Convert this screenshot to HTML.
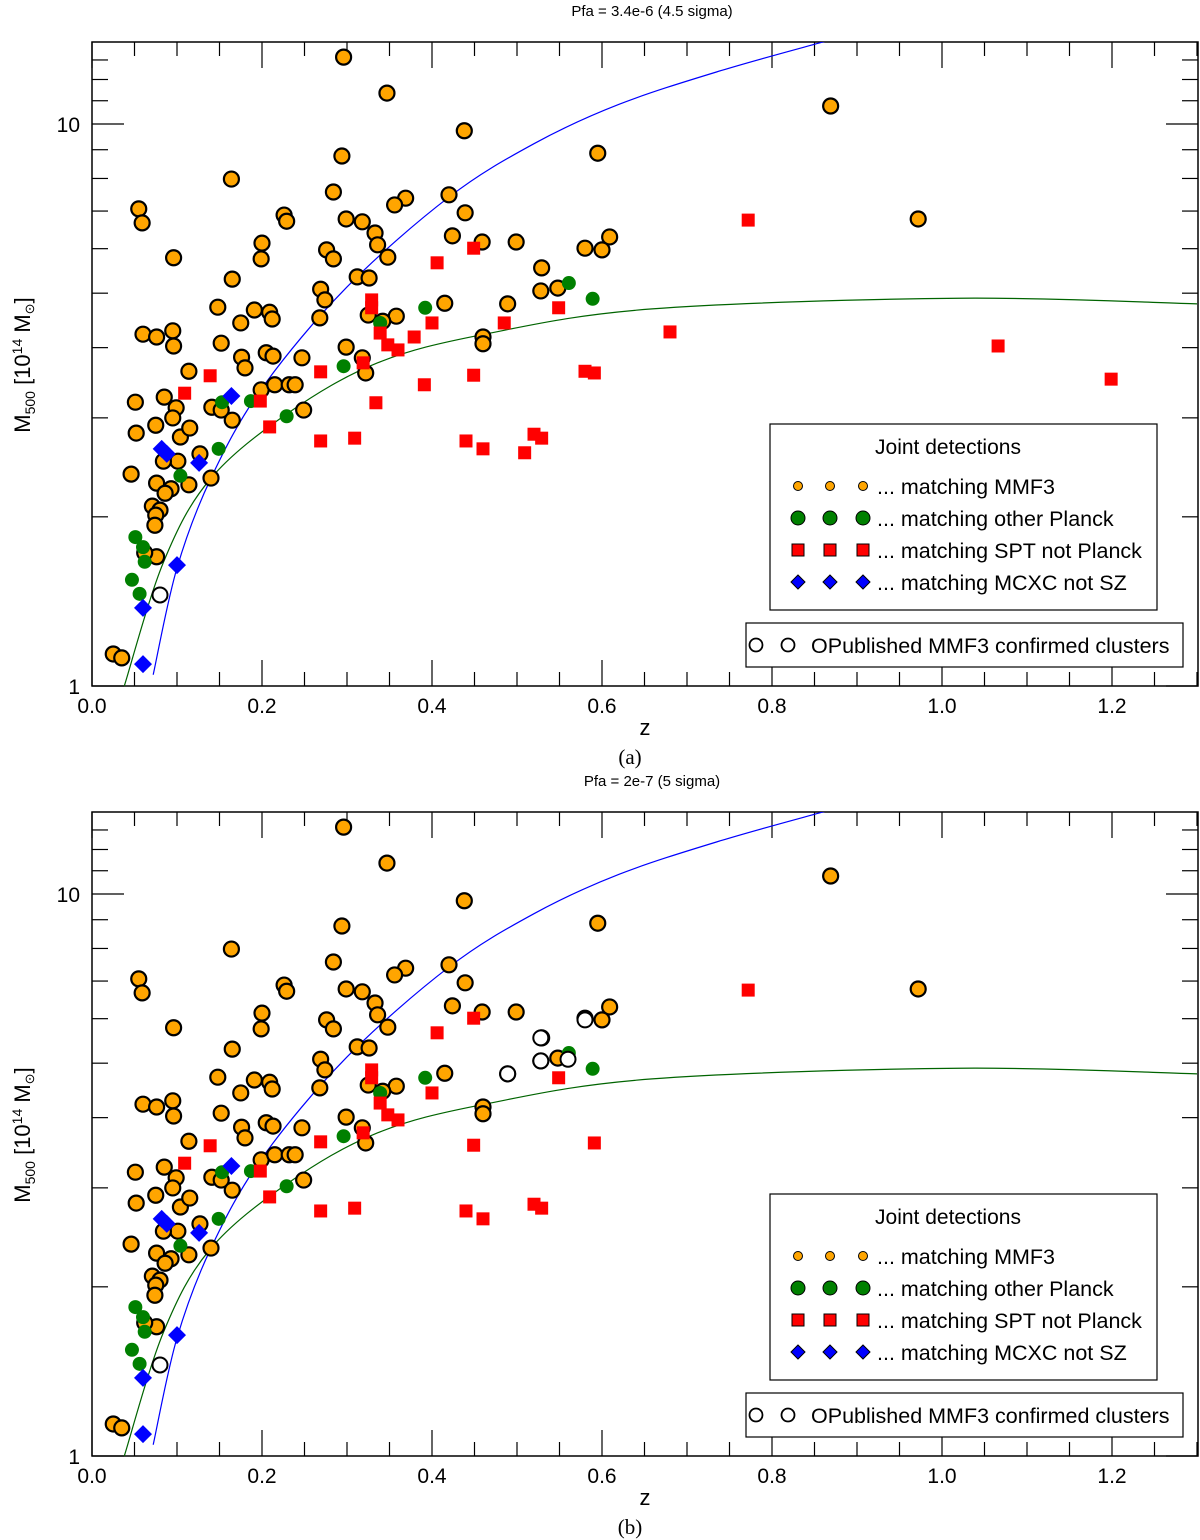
<!DOCTYPE html>
<html><head><meta charset="utf-8">
<style>
html,body{margin:0;padding:0;background:#fff;}
svg{display:block;font-family:"Liberation Sans",sans-serif;}
</style></head>
<body>
<svg id="chart" width="1200" height="1540" viewBox="0 0 1200 1540" xmlns="http://www.w3.org/2000/svg"></svg>
<script>
// ---- data (z, log10 M500/1e14) ----
const orangeZ=[0.296,0.347,0.869,0.438,0.294,0.595,0.164,0.055,0.059,0.420,0.284,0.369,0.356,0.439,0.972,0.299,0.318,0.226,0.229,0.333,0.424,0.459,0.499,0.336,0.200,0.276,0.284,0.096,0.609,0.600,0.580,0.348,0.529,0.199,0.312,0.326,0.165,0.528,0.269,0.274,0.548,0.489,0.415,0.148,0.191,0.209,0.212,0.325,0.358,0.175,0.342,0.268,0.060,0.076,0.095,0.096,0.152,0.299,0.205,0.176,0.460,0.460,0.213,0.247,0.180,0.114,0.199,0.215,0.232,0.239,0.318,0.322,0.051,0.085,0.141,0.099,0.152,0.165,0.052,0.075,0.104,0.115,0.249,0.095,0.127,0.101,0.084,0.046,0.076,0.114,0.093,0.086,0.071,0.080,0.075,0.074,0.076,0.062,0.025,0.035,0.140];
const orangeLogM=[1.119,1.055,1.032,0.988,0.943,0.948,0.902,0.849,0.824,0.874,0.879,0.868,0.856,0.842,0.831,0.831,0.826,0.838,0.827,0.806,0.801,0.790,0.790,0.785,0.788,0.776,0.760,0.762,0.799,0.776,0.779,0.763,0.744,0.760,0.728,0.726,0.724,0.703,0.706,0.687,0.708,0.680,0.681,0.674,0.669,0.665,0.653,0.660,0.658,0.646,0.649,0.655,0.626,0.621,0.632,0.605,0.610,0.603,0.593,0.585,0.621,0.609,0.587,0.584,0.566,0.560,0.527,0.536,0.536,0.536,0.584,0.557,0.505,0.514,0.496,0.495,0.491,0.473,0.450,0.464,0.443,0.459,0.491,0.477,0.413,0.400,0.400,0.377,0.361,0.358,0.351,0.343,0.320,0.313,0.304,0.286,0.230,0.237,0.057,0.050,0.370];
const greenZ=[0.561,0.589,0.392,0.339,0.296,0.153,0.187,0.229,0.149,0.104,0.051,0.060,0.062,0.047,0.056];
const greenLogM=[0.717,0.689,0.673,0.646,0.569,0.505,0.507,0.480,0.422,0.374,0.265,0.247,0.221,0.189,0.164];
const redZ=[0.772,0.406,0.449,0.549,0.329,0.329,0.400,0.485,0.680,0.339,1.066,0.348,0.360,0.379,0.319,0.269,0.449,0.580,0.591,1.199,0.139,0.109,0.391,0.334,0.198,0.209,0.269,0.309,0.440,0.460,0.509,0.520,0.529];
const redLogM=[0.829,0.753,0.779,0.673,0.687,0.673,0.646,0.646,0.630,0.628,0.605,0.607,0.598,0.621,0.575,0.559,0.553,0.560,0.557,0.546,0.552,0.521,0.536,0.504,0.507,0.461,0.436,0.441,0.436,0.422,0.415,0.448,0.441];
const redDroppedB=[7,8,10,13,17,19,22,23,30];
const blueZ=[0.082,0.088,0.164,0.126,0.100,0.060,0.060];
const blueLogM=[0.422,0.413,0.516,0.397,0.215,0.139,0.039];
const openZA=[0.080];
const openLogMA=[0.162];
const openZB=[0.080,0.528,0.580,0.489,0.528,0.560];
const openLogMB=[0.162,0.744,0.776,0.680,0.703,0.706];
const blueCurveZ=[0.072,0.100,0.140,0.200,0.300,0.420,0.520,0.620,0.740,0.860,0.880];
const blueCurveLogM=[0.020,0.210,0.370,0.530,0.710,0.870,0.965,1.035,1.095,1.146,1.154];
const greenCurveZ=[0.038,0.084,0.139,0.231,0.336,0.462,0.659,1.020,1.300];
const greenCurveLogM=[0.0,0.220,0.368,0.486,0.575,0.626,0.671,0.690,0.680];
const xTicks=[0.0,0.2,0.4,0.6,0.8,1.0,1.2];
const xTickLabels=["0.0","0.2","0.4","0.6","0.8","1.0","1.2"];
const panelTitles=["Pfa = 3.4e-6 (4.5 sigma)","Pfa = 2e-7 (5 sigma)"];
const panelTags=["(a)","(b)"];

const NS="http://www.w3.org/2000/svg";
const svg=document.getElementById('chart');
function el(tag,attrs,parent,text){const e=document.createElementNS(NS,tag);for(const k in attrs)e.setAttribute(k,attrs[k]);if(text!==undefined)e.textContent=text;(parent||svg).appendChild(e);return e;}

const X0=92,X1=1198,PXZ=850,PXDEC=562;
function drawPanel(p,off){
  const g=el('g',{});
  
  
  const top=42+off,bot=686+off;
  const xs=z=>X0+z*PXZ;
  const ys=l=>bot-l*PXDEC;
  const t=el('text',{x:652,y:16+off,'text-anchor':'middle','font-size':15},g,panelTitles[p]);
  
  const cid='clip'+p;
  const cp=el('clipPath',{id:cid},g);el('rect',{x:X0,y:top,width:X1-X0,height:bot-top},cp);
  const ax=el('g',{stroke:'#000','stroke-width':1.2},g);
  
  for(let i=0;i<=26;i++){const z=i*0.05,x=xs(z);if(x>X1)break;const major=(i%4===0);const L=major?26:14;
    el('line',{x1:x,y1:bot,x2:x,y2:bot-L},ax);el('line',{x1:x,y1:top,x2:x,y2:top+L},ax);}
  for(let m=1;m<=14;m++){const y=ys(Math.log10(m));if(y<top)break;const major=(m===1||m===10);const L=major?32:16;
    el('line',{x1:X0,y1:y,x2:X0+L,y2:y},ax);el('line',{x1:X1,y1:y,x2:X1-L,y2:y},ax);}
  el('rect',{x:X0,y:top,width:X1-X0,height:bot-top,fill:'none',stroke:'#000','stroke-width':1.5},g);
  xTicks.forEach((v,i)=>{const tl=el('text',{x:xs(v),y:bot+27,'text-anchor':'middle','font-size':21},g,xTickLabels[i]);
    });
  const y1=el('text',{x:80,y:ys(0)+8,'text-anchor':'end','font-size':21},g,'1');
  const y10=el('text',{x:80,y:ys(1)+8,'text-anchor':'end','font-size':21},g,'10');
  const xt=el('text',{x:645,y:bot+49,'text-anchor':'middle','font-size':22},g,'z');
  const yt=el('text',{transform:`translate(30,${off+365}) rotate(-90)`,'text-anchor':'middle','font-size':22},g);
  
  el('tspan',{},yt,'M');el('tspan',{'font-size':14,dy:5},yt,'500');el('tspan',{dy:-5},yt,' [10');el('tspan',{'font-size':14,dy:-8},yt,'14');el('tspan',{dy:8},yt,' M');el('tspan',{'font-size':13,dy:4},yt,'\u2299');el('tspan',{dy:-4},yt,']');
  const tag=el('text',{x:630,y:bot+78,'text-anchor':'middle','font-size':21,'font-family':'Liberation Serif, serif'},g,panelTags[p]);
  
  const pg=el('g',{'clip-path':`url(#${cid})`},g);
  function smooth(zs,ls){const P=zs.map((z,i)=>[xs(z),ys(ls[i])]);let d='M'+P[0];
    for(let i=0;i<P.length-1;i++){const p0=P[i-1]||P[i],p1=P[i],p2=P[i+1],p3=P[i+2]||P[i+1];
      d+=`C${p1[0]+(p2[0]-p0[0])/6},${p1[1]+(p2[1]-p0[1])/6} ${p2[0]-(p3[0]-p1[0])/6},${p2[1]-(p3[1]-p1[1])/6} ${p2[0]},${p2[1]}`;}return d;}
  const bc=el('path',{d:smooth(blueCurveZ,blueCurveLogM),fill:'none',stroke:'#0000ff','stroke-width':1.2},pg);
  
  const gc=el('path',{d:smooth(greenCurveZ,greenCurveLogM),fill:'none',stroke:'#006400','stroke-width':1.2},pg);
  
  orangeZ.forEach((z,i)=>{const c=el('circle',{cx:xs(z),cy:ys(orangeLogM[i]),r:7.5,fill:'#ffa500',stroke:'#000','stroke-width':2.2},pg);
    });
  greenZ.forEach((z,i)=>{const c=el('circle',{cx:xs(z),cy:ys(greenLogM[i]),r:7,fill:'#008000'},pg);
    });
  redZ.forEach((z,i)=>{if(p===1&&redDroppedB.includes(i))return;const s=13;
    const r=el('rect',{x:xs(z)-s/2,y:ys(redLogM[i])-s/2,width:s,height:s,fill:'#ff0000'},pg);
    });
  blueZ.forEach((z,i)=>{const x=xs(z),y=ys(blueLogM[i]),h=9;
    const d=el('polygon',{points:`${x},${y-h} ${x+h},${y} ${x},${y+h} ${x-h},${y}`,fill:'#0000ff'},pg);
    });
  const oz=p?openZB:openZA,ol=p?openLogMB:openLogMA;
  oz.forEach((z,i)=>{const c=el('circle',{cx:xs(z),cy:ys(ol[i]),r:7.5,fill:'#fff',stroke:'#000','stroke-width':2},pg);
    });
  const lg=el('g',{},g);
  el('rect',{x:770,y:424+off,width:387,height:186,fill:'#fff',stroke:'#000','stroke-width':1.2},lg);
  el('text',{x:948,y:454+off,'text-anchor':'middle','font-size':21},lg,'Joint detections');
  const labels=['... matching MMF3','... matching other Planck','... matching SPT not Planck','... matching MCXC not SZ'];
  const kinds=['o','g','s','d'];
  labels.forEach((lab,k)=>{const y=486+off+k*32;
    const e=el('g',{},lg);
    [798,830,863].forEach(x=>{
      if(kinds[k]==='o')el('circle',{cx:x,cy:y,r:4.5,fill:'#ffa500',stroke:'#000','stroke-width':1},e);
      else if(kinds[k]==='g')el('circle',{cx:x,cy:y,r:7,fill:'#008000',stroke:'#000','stroke-width':1},e);
      else if(kinds[k]==='s')el('rect',{x:x-6,y:y-6,width:12,height:12,fill:'#ff0000',stroke:'#000','stroke-width':1},e);
      else el('polygon',{points:`${x},${y-7} ${x+7},${y} ${x},${y+7} ${x-7},${y}`,fill:'#0000ff',stroke:'#000','stroke-width':1},e);});
    el('text',{x:877,y:y+8,'font-size':21.5},e,lab);});
  const lg2=el('g',{},g);
  el('rect',{x:746,y:623+off,width:437,height:44,fill:'#fff',stroke:'#000','stroke-width':1.2},lg2);
  [756,788].forEach(x=>el('circle',{cx:x,cy:645+off,r:6.5,fill:'#fff',stroke:'#000','stroke-width':1.8},lg2));
  el('text',{x:811,y:653+off,'font-size':21.5},lg2,'OPublished MMF3 confirmed clusters');
}
drawPanel(0,0);
drawPanel(1,770);
</script>
</body></html>
